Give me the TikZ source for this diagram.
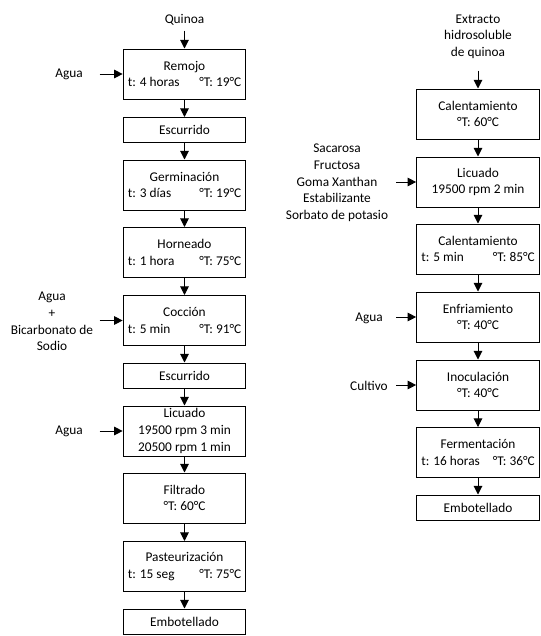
\documentclass[tikz,border=0pt]{standalone}
\usepackage{fontspec}
\setmainfont{Carlito}
\usetikzlibrary{arrows.meta}
\newcommand{\twof}[2]{\makebox[85pt]{#1\hfill#2}}
\begin{document}
\begin{tikzpicture}[x=0.75pt,y=-0.75pt,
  font=\fontsize{10pt}{12.5pt}\selectfont,
  box/.style={draw, line width=0.75pt, minimum width=92pt, minimum height=37.5pt, align=center, inner sep=0pt},
  sbox/.style={box, minimum height=18.75pt},
  arr/.style={-{Triangle[length=6.5pt,width=6.5pt]}, line width=0.75pt},
  lbl/.style={align=center, inner sep=0pt}]
\useasboundingbox (0,0) rectangle (541,636);
% ---------- left column ----------
\node[box]  (remojo) at (184.5,74)    {Remojo\\\twof{t: 4 horas}{°T: 19°C}};
\node[sbox] (esc1)   at (184.5,130)   {Escurrido};
\node[box]  (germ)   at (184.5,185)   {Germinación\\\twof{t: 3 días}{°T: 19°C}};
\node[box]  (horn)   at (184.5,252.5) {Horneado\\\twof{t: 1 hora}{°T: 75°C}};
\node[box]  (cocc)   at (184.5,320.5) {Cocción\\\twof{t: 5 min}{°T: 91°C}};
\node[sbox] (esc2)   at (184.5,375.5) {Escurrido};
\node[box]  (licL)   at (184.5,431)   {Licuado\\19500 rpm 3 min\\20500 rpm 1 min};
\node[box]  (filt)   at (184.5,498)   {Filtrado\\°T: 60°C};
\node[box]  (past)   at (184.5,566.5) {Pasteurización\\\twof{t: 15 seg}{°T: 75°C}};
\node[sbox] (embL)   at (184.5,621.5) {Embotellado};
\node[lbl]  (quinoa) at (184.5,20)    {Quinoa};
\node[lbl]  (agua1)  at (69,74)       {Agua};
\node[lbl]  (agua2)  at (52,321.5)    {Agua\\+\\Bicarbonato de\\Sodio};
\node[lbl]  (agua3)  at (69,431)      {Agua};
\coordinate (qs) at ([yshift=13.5pt]remojo.north);
\coordinate (a1) at ([xshift=-17.25pt]remojo.west);
\coordinate (a2) at ([xshift=-17.25pt]cocc.west);
\coordinate (a3) at ([xshift=-17.25pt]licL.west);
\draw[arr] (qs) -- (remojo);
\draw[arr] (a1) -- (remojo.west);
\draw[arr] (a2) -- (cocc.west);
\draw[arr] (a3) -- (licL.west);
\draw[arr] (remojo) -- (esc1);
\draw[arr] (esc1) -- (germ);
\draw[arr] (germ) -- (horn);
\draw[arr] (horn) -- (cocc);
\draw[arr] (cocc) -- (esc2);
\draw[arr] (esc2) -- (licL);
\draw[arr] (licL) -- (filt);
\draw[arr] (filt) -- (past);
\draw[arr] (past) -- (embL);
% ---------- right column ----------
\node[box]  (cal1)   at (478,114)    {Calentamiento\\°T: 60°C};
\node[box]  (licR)   at (478,182)    {Licuado\\19500 rpm 2 min};
\node[box]  (cal2)   at (478,249)    {Calentamiento\\\twof{t: 5 min}{°T: 85°C}};
\node[box]  (enf)    at (478,317)    {Enfriamiento\\°T: 40°C};
\node[box]  (inoc)   at (478,385)    {Inoculación\\°T: 40°C};
\node[box]  (ferm)   at (478,452.5)  {Fermentación\\\twof{t: 16 horas}{°T: 36°C}};
\node[sbox] (embR)   at (478,507.5)  {Embotellado};
\node[lbl]  (extr)   at (478,36.5)   {Extracto\\hidrosoluble\\de quinoa};
\node[lbl]  (azuc)   at (337,183)    {Sacarosa\\Fructosa\\Goma Xanthan\\Estabilizante\\Sorbato de potasio};
\node[lbl]  (agua4)  at (369,318)    {Agua};
\node[lbl]  (cult)   at (369,386)    {Cultivo};
\coordinate (es) at ([yshift=13.5pt]cal1.north);
\coordinate (b1) at ([xshift=-15pt]licR.west);
\coordinate (b2) at ([xshift=-15pt]enf.west);
\coordinate (b3) at ([xshift=-15pt]inoc.west);
\draw[arr] (es) -- (cal1);
\draw[arr] (b1) -- (licR.west);
\draw[arr] (b2) -- (enf.west);
\draw[arr] (b3) -- (inoc.west);
\draw[arr] (cal1) -- (licR);
\draw[arr] (licR) -- (cal2);
\draw[arr] (cal2) -- (enf);
\draw[arr] (enf) -- (inoc);
\draw[arr] (inoc) -- (ferm);
\draw[arr] (ferm) -- (embR);
\end{tikzpicture}
\end{document}
